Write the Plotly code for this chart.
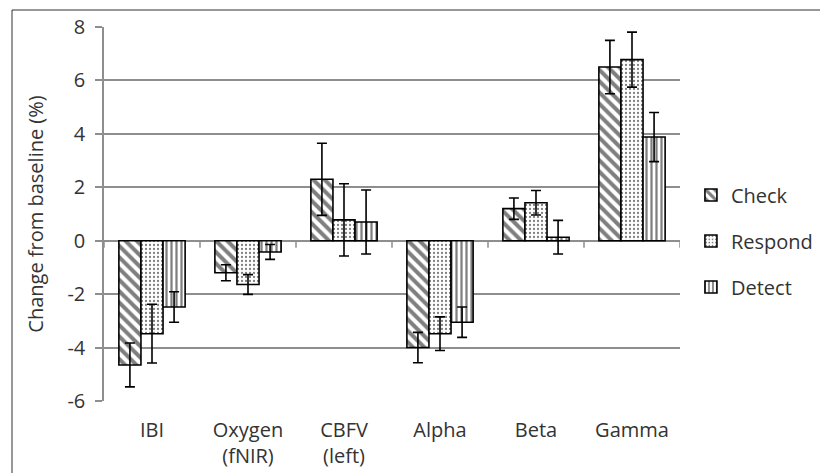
import plotly.graph_objects as go

categories = ["IBI", "Oxygen<br>(fNIR)", "CBFV<br>(left)", "Alpha", "Beta", "Gamma"]
series_names = ["Check", "Respond", "Detect"]
check = [-4.65, -1.2, 2.3, -4.0, 1.2, 6.5]
check_err = [0.82, 0.3, 1.35, 0.57, 0.4, 1.0]
respond = [-3.48, -1.64, 0.78, -3.48, 1.42, 6.78]
respond_err = [1.1, 0.37, 1.35, 0.63, 0.46, 1.03]
detect = [-2.48, -0.42, 0.7, -3.05, 0.13, 3.88]
detect_err = [0.57, 0.28, 1.2, 0.57, 0.63, 0.92]
y_ticks = [-6, -4, -2, 0, 2, 4, 6, 8]

FONT = "Open Sans"
TXT = "#333333"
GRID = "#8e8e8e"

patterns = [
    dict(shape="\\", size=8, solidity=0.5, fgcolor="black", bgcolor="white"),
    dict(shape=".", size=4, solidity=0.25, fgcolor="black", bgcolor="white"),
    dict(shape="|", size=5, solidity=0.45, fgcolor="black", bgcolor="white"),
]

fig = go.Figure()
for name, vals, errs, pat in zip(series_names, [check, respond, detect],
                                 [check_err, respond_err, detect_err], patterns):
    fig.add_trace(go.Bar(
        name=name, x=categories, y=vals, legendgroup=name,
        marker=dict(color="white", pattern=pat, line=dict(color="black", width=1.6)),
        error_y=dict(type="data", array=errs, visible=True, color="black",
                     thickness=1.6, width=5),
    ))

# category boundary tick marks on the zero line
shapes = []
for k in range(len(categories) + 1):
    shapes.append(dict(type="line", xref="x", yref="y", x0=k - 0.5, x1=k - 0.5,
                       ysizemode="pixel", yanchor=0, y0=0, y1=-7,
                       line=dict(color=GRID, width=1.5)))
# outer chart frame (left and top edges visible)
shapes.append(dict(type="line", xref="paper", yref="paper",
                   x0=(4 - 96) / 576, x1=(4 - 96) / 576, y0=1 + 17 / 374, y1=-0.3,
                   line=dict(color="#303030", width=1)))
shapes.append(dict(type="line", xref="paper", yref="paper",
                   x0=(4 - 96) / 576, x1=1.4, y0=1 + 17 / 374, y1=1 + 17 / 374,
                   line=dict(color="#303030", width=1)))

fig.update_layout(
    width=828, height=473,
    margin=dict(l=96, r=156, t=19, b=80, autoexpand=False),
    paper_bgcolor="white", plot_bgcolor="white",
    barmode="group", bargap=0.31, bargroupgap=0,
    font=dict(family=FONT, size=20, color=TXT),
    showlegend=True,
    legend=dict(x=1.019, y=(393 - 233) / 374, xanchor="left", yanchor="middle",
                font=dict(size=20, color=TXT), traceorder="grouped",
                tracegroupgap=17, bgcolor="rgba(0,0,0,0)"),
    shapes=shapes,
    xaxis=dict(type="category", range=[-0.5, 5.5], showgrid=False, showline=False,
               zeroline=False, ticks="", ticklabelstandoff=15,
               tickfont=dict(size=20, color=TXT)),
    yaxis=dict(range=[-6, 8], tickvals=y_ticks, ticktext=[str(v) for v in y_ticks],
               showgrid=True, gridcolor=GRID, gridwidth=1.5, zeroline=False,
               showline=True, linecolor=GRID, linewidth=1.5,
               ticks="outside", ticklen=7, tickcolor=GRID, tickwidth=1.5,
               ticklabelstandoff=6, tickfont=dict(size=20, color=TXT),
               title=dict(text="Change from baseline (%)", standoff=18,
                          font=dict(size=20, color=TXT))),
)

fig.write_html("out.html")
